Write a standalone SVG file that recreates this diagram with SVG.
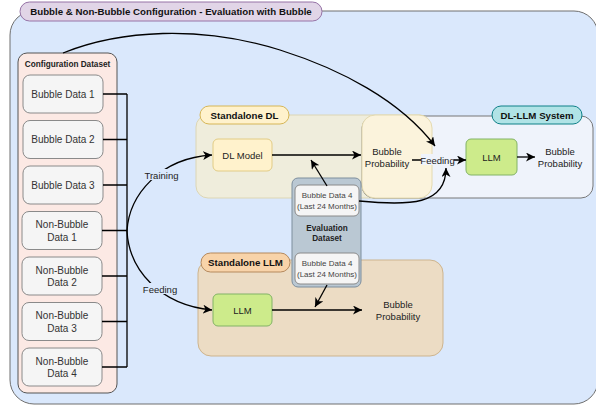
<svg xmlns="http://www.w3.org/2000/svg" width="596" height="406" viewBox="0 0 596 406">
<defs>
<marker id="arr" markerUnits="userSpaceOnUse" markerWidth="10" markerHeight="9" refX="9" refY="4.5" orient="auto">
<path d="M0,0 L9,4.5 L0,9 L2.5,4.5 Z" fill="#000"/>
</marker>
<style>
text{font-family:"Liberation Sans",Arial,sans-serif;}
.t{font-size:10px;fill:#333;text-anchor:middle;}
.s{font-size:9.5px;fill:#222;text-anchor:middle;}
.b{font-size:9.7px;font-weight:bold;fill:#111;text-anchor:middle;}
.sb{font-size:8.2px;font-weight:bold;fill:#222;text-anchor:middle;}
.e{font-size:8px;fill:#444;text-anchor:middle;}
.box{fill:#f5f5f5;stroke:#8a8a8a;stroke-width:1;}
.ln{fill:none;stroke:#000;stroke-width:1.3;}
.llm{fill:#cdeb8b;stroke:#82b366;stroke-width:1;}
</style>
</defs>

<g id="outer">
<rect x="10" y="11" width="588" height="393" rx="24" fill="#dae8fc" stroke="#6f6f6f" stroke-width="1"/>
<rect x="20" y="2" width="302" height="19" rx="9.5" fill="#e1d5e7" stroke="#9673a6" stroke-width="1"/>
<text class="b" x="171" y="15">Bubble &amp; Non-Bubble Configuration - Evaluation with Bubble</text>
</g>

<g id="config-dataset">
<rect x="18" y="53" width="99" height="340" rx="9" fill="#fce9e4" stroke="#555" stroke-width="1"/>
<text class="sb" x="67.5" y="67">Configuration Dataset</text>
</g>
<g id="bubble1"><rect class="box" x="23" y="75" width="80" height="38" rx="7"/><text class="t" x="63" y="97.5">Bubble Data 1</text></g>
<g id="bubble2"><rect class="box" x="23" y="120.5" width="80" height="38" rx="7"/><text class="t" x="63" y="143">Bubble Data 2</text></g>
<g id="bubble3"><rect class="box" x="23" y="166" width="80" height="38" rx="7"/><text class="t" x="63" y="188.5">Bubble Data 3</text></g>
<g id="nonbubble1"><rect class="box" x="22" y="211.5" width="80" height="38" rx="7"/><text class="t" x="62" y="228">Non-Bubble</text><text class="t" x="62" y="240.5">Data 1</text></g>
<g id="nonbubble2"><rect class="box" x="22" y="257" width="80" height="38" rx="7"/><text class="t" x="62" y="273.5">Non-Bubble</text><text class="t" x="62" y="286">Data 2</text></g>
<g id="nonbubble3"><rect class="box" x="22" y="302.5" width="80" height="38" rx="7"/><text class="t" x="62" y="319">Non-Bubble</text><text class="t" x="62" y="331.5">Data 3</text></g>
<g id="nonbubble4"><rect class="box" x="22" y="348" width="80" height="38" rx="7"/><text class="t" x="62" y="364.5">Non-Bubble</text><text class="t" x="62" y="377">Data 4</text></g>

<g id="standalone-dl">
<rect x="196" y="115" width="236" height="83" rx="12" fill="#efeddc" stroke="#dcd6b5" stroke-width="1"/>
</g>
<g id="dl-llm-system">
<rect x="362" y="116" width="231" height="82" rx="12" fill="#eff3fb" stroke="#777" stroke-width="1"/>
</g>
<g id="standalone-llm">
<rect x="198" y="260" width="245" height="96" rx="13" fill="#ecdcc4" stroke="#cdb48e" stroke-width="1"/>
<rect x="201" y="253" width="89" height="19" rx="9.5" fill="#f8d3a9" stroke="#b5895d" stroke-width="1"/>
<text class="b" x="245.5" y="266">Standalone LLM</text>
</g>
<g id="standalone-dl-label">
<rect x="200" y="106" width="89" height="18" rx="9" fill="#fff2cc" stroke="#d6b656" stroke-width="1"/>
<text class="b" x="244.5" y="118.5">Standalone DL</text>
</g>
<g id="dl-llm-label">
<rect x="492" y="106" width="90" height="18" rx="9" fill="#b0e3e6" stroke="#0e8088" stroke-width="1"/>
<text class="b" x="537" y="118.5">DL-LLM System</text>
</g>
<g id="bubble-prob-dl">
<rect x="362" y="115" width="70" height="83" rx="13" fill="#fbf3dc" stroke="#e4dab0" stroke-width="1"/>
<text class="s" x="387" y="155">Bubble</text>
<text class="s" x="387" y="167">Probability</text>
</g>
<g id="dl-model"><rect x="213" y="139" width="59" height="32" rx="5" fill="#fff2cc" stroke="#e2cc85" stroke-width="1"/><text class="s" x="242.5" y="158.5">DL Model</text></g>
<g id="llm-system"><rect class="llm" x="466" y="139" width="51" height="36" rx="5"/><text class="s" x="491.5" y="160.5">LLM</text></g>
<g id="bubble-prob-system"><text class="s" x="560" y="155">Bubble</text><text class="s" x="560" y="167">Probability</text></g>
<g id="llm-standalone"><rect class="llm" x="213" y="294" width="59" height="32" rx="5"/><text class="s" x="242.5" y="313.5">LLM</text></g>
<g id="bubble-prob-llm"><text class="s" x="398" y="308">Bubble</text><text class="s" x="398" y="320">Probability</text></g>

<g id="eval-dataset">
<rect x="292" y="178" width="69" height="109" rx="6" fill="#bac8d3" stroke="#7d8e9d" stroke-width="1"/>
<rect class="box" x="295" y="185" width="64" height="31" rx="5" fill="#f7f7f7"/>
<text class="e" x="327" y="198">Bubble Data 4</text>
<text class="e" x="327" y="209">(Last 24 Months)</text>
<text class="sb" x="327" y="231">Evaluation</text>
<text class="sb" x="327" y="241">Dataset</text>
<rect class="box" x="295" y="253" width="64" height="31" rx="5" fill="#f7f7f7"/>
<text class="e" x="327" y="266">Bubble Data 4</text>
<text class="e" x="327" y="277">(Last 24 Months)</text>
</g>

<g id="connectors">
<path class="ln" d="M103,94 H127 M103,139.5 H127 M103,185 H127 M102,230.5 H127 M102,276 H127 M102,321.5 H127 M102,367 H127 M127,94 V367" stroke-width="1.2"/>
<path class="ln" d="M127,231 C129,195 160,158 212,155" marker-end="url(#arr)"/>
<path class="ln" d="M127,231 C129,270 160,305 212,310" marker-end="url(#arr)"/>
<path class="ln" d="M272,155 H361" marker-end="url(#arr)"/>
<path class="ln" d="M272,310 H362" marker-end="url(#arr)"/>
<path class="ln" d="M517,157 H535" marker-end="url(#arr)"/>
<path class="ln" d="M412,160 H466" marker-end="url(#arr)" stroke-width="1"/>
<path class="ln" d="M63,53 C120,30 200,25 280,50 C340,69 400,100 435,146" marker-end="url(#arr)"/>
<path class="ln" d="M359,201 C410,206 446,205 446,168" marker-end="url(#arr)"/>
<path class="ln" d="M327,186 L311,160" marker-end="url(#arr)"/>
<path class="ln" d="M327,285 L315,307" marker-end="url(#arr)"/>
<rect x="144" y="169" width="35" height="11" fill="#dae8fc"/>
<text class="s" x="161.5" y="179">Training</text>
<rect x="143" y="283" width="34" height="11" fill="#dae8fc"/>
<text class="s" x="160" y="293">Feeding</text>
<rect x="421" y="154" width="33" height="11" fill="#eff3fb"/>
<text class="s" x="437.5" y="163.5">Feeding</text>
</g>
</svg>
